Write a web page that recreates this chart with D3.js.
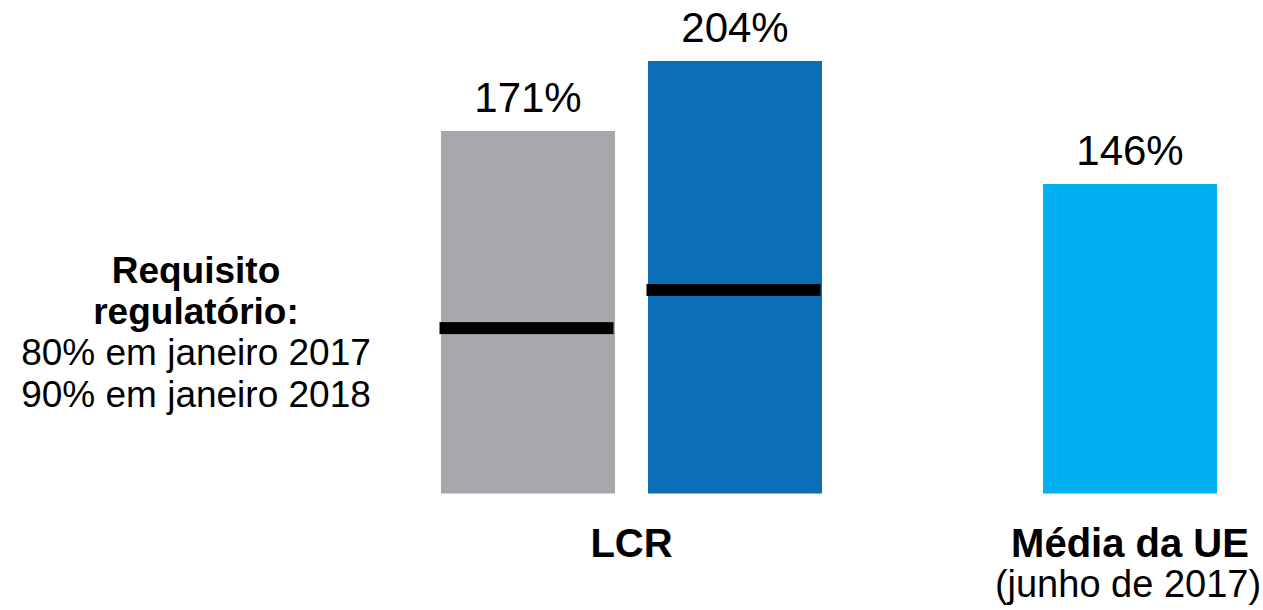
<!DOCTYPE html>
<html>
<head>
<meta charset="utf-8">
<script src="https://cdn.jsdelivr.net/npm/d3@7"></script>
<style>
  html, body { margin: 0; padding: 0; background: #ffffff; }
  svg { display: block; font-family: "Liberation Sans", Arial, sans-serif; }
</style>
</head>
<body>
<svg id="chart" width="1263" height="610"></svg>
<script>
// LCR by period, with the regulatory minimum marked inside each bar
const groups = ["LCR", "Média da UE"];
const seriesNames = ["2017", "2018", "UE"];
const seriesGroup = ["LCR", "LCR", "Média da UE"];
const seriesValues = [171, 204, 146];
const seriesColors = ["#A7A8AB", "#0C6EB6", "#00B0F0"];
const requirementValues = [78, 96, null];
const valueLabels = ["171%", "204%", "146%"];
const groupSubtitles = ["", "(junho de 2017)"];
const noteLines = [
  { text: "Requisito", bold: true },
  { text: "regulatório:", bold: true },
  { text: "80% em janeiro 2017", bold: false },
  { text: "90% em janeiro 2018", bold: false }
];

const svg = d3.select("#chart");

const barWidth = 174;
const barGap = 33;

const x = d3.scalePoint().domain(groups).range([631.5, 1130]);
const y = d3.scaleLinear().domain([0, 204]).range([493.5, 61]);

const bars = seriesNames.map((name, i) => {
  const g = seriesGroup[i];
  const members = seriesNames.filter((_, j) => seriesGroup[j] === g);
  const k = members.indexOf(name);
  const n = members.length;
  const cx = x(g) + (k - (n - 1) / 2) * (barWidth + barGap);
  return {
    name, value: seriesValues[i], color: seriesColors[i],
    req: requirementValues[i], label: valueLabels[i],
    x0: cx - barWidth / 2
  };
});

// bars
svg.append("g").selectAll("rect")
  .data(bars)
  .join("rect")
  .attr("x", d => d.x0)
  .attr("y", d => y(d.value))
  .attr("width", barWidth)
  .attr("height", d => y(0) - y(d.value))
  .attr("fill", d => d.color);

// regulatory minimum markers
svg.append("g").selectAll("rect")
  .data(bars.filter(d => d.req != null))
  .join("rect")
  .attr("x", d => d.x0 - 1.5)
  .attr("y", d => y(d.req) - 6)
  .attr("width", barWidth)
  .attr("height", 12)
  .attr("fill", "#000000");

// value labels
svg.append("g").selectAll("text")
  .data(bars)
  .join("text")
  .attr("x", d => d.x0 + barWidth / 2)
  .attr("y", d => y(d.value) - 19)
  .attr("text-anchor", "middle")
  .attr("font-size", 42)
  .attr("fill", "#000")
  .text(d => d.label);

// category labels
const cat = svg.append("g").selectAll("g")
  .data(groups)
  .join("g");
cat.append("text")
  .attr("x", d => x(d))
  .attr("y", 557)
  .attr("text-anchor", "middle")
  .attr("font-size", 40)
  .attr("font-weight", "bold")
  .attr("fill", "#000")
  .text(d => d);
cat.append("text")
  .attr("x", d => x(d) - 2)
  .attr("y", 597)
  .attr("text-anchor", "middle")
  .attr("font-size", 38)
  .attr("fill", "#000")
  .text((d, i) => groupSubtitles[i]);

// requirement note on the left
svg.append("g").selectAll("text")
  .data(noteLines)
  .join("text")
  .attr("x", 196)
  .attr("y", (d, i) => 283 + i * 41.2)
  .attr("text-anchor", "middle")
  .attr("font-size", 37)
  .attr("font-weight", d => d.bold ? "bold" : "normal")
  .attr("fill", "#000")
  .text(d => d.text);
</script>
</body>
</html>
